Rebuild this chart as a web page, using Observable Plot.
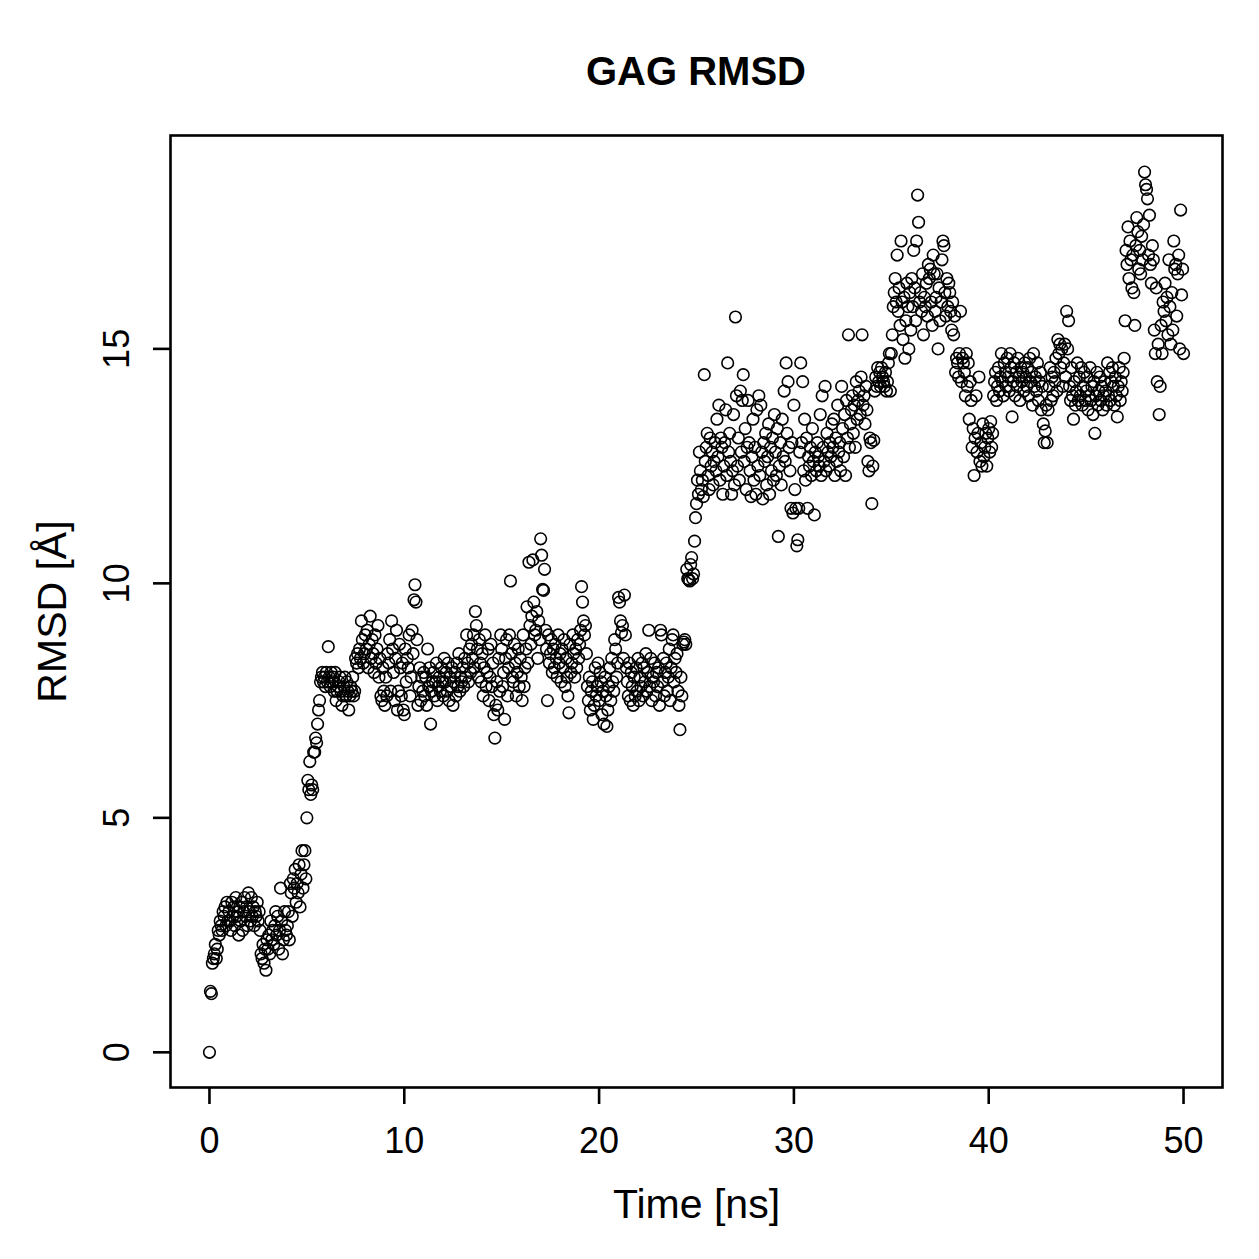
<!DOCTYPE html>
<html>
<head>
<meta charset="utf-8">
<script src="https://cdn.jsdelivr.net/npm/d3@7"></script>
<script src="https://cdn.jsdelivr.net/npm/@observablehq/plot@0.6"></script>
<style>
  html, body { margin: 0; padding: 0; background: #fff; }
  #wrap { position: relative; width: 1259px; height: 1259px; font-family: "Liberation Sans", Arial, Helvetica, sans-serif; }
  #title { position: absolute; left: 170px; width: 1052px; top: 51px; text-align: center; font-weight: bold; font-size: 40px; line-height: 41px; color: #000; }
  #chart { position: absolute; left: 0; top: 100px; }
</style>
</head>
<body>
<div id="wrap">
  <div id="title">GAG RMSD</div>
  <div id="chart"></div>
</div>
<script>
const titleText = "GAG RMSD";
const xLabel = "Time [ns]";
const yLabel = "RMSD [Å]";
const xTicks = [0, 10, 20, 30, 40, 50];
const yTicks = [0, 5, 10, 15];
const timeStart = 0;
const timeStep = 0.05; // ns between frames
// RMSD values (Å), one per frame, 20 frames per ns
const rmsd = [
  // 0 ns
  0.0, 1.3, 1.25, 1.9, 2.0, 2.1, 2.3, 2.0, 2.2, 2.6, 2.5, 2.8, 2.7, 2.6, 3.0, 2.9, 3.1, 2.7, 3.2, 2.8,
  // 1
  3.0, 2.8, 2.6, 3.2, 2.9, 3.1, 2.7, 3.3, 2.9, 3.0, 2.5, 3.1, 2.8, 3.2, 2.6, 3.0, 3.3, 2.9, 3.1, 2.7,
  // 2
  3.4, 3.0, 2.8, 3.3, 2.9, 3.1, 2.7, 3.0, 2.9, 3.2, 2.8, 3.0, 2.6, 2.1, 2.0, 2.3, 1.9, 2.2, 1.75, 2.4,
  // 3
  2.2, 2.5, 2.1, 2.8, 2.4, 2.6, 2.3, 2.7, 3.0, 2.5, 2.9, 2.2, 2.6, 3.5, 2.8, 2.1, 2.4, 3.0, 2.6, 2.5,
  // 4
  2.7, 3.0, 2.4, 3.6, 3.4, 2.9, 3.7, 3.5, 3.9, 3.2, 3.6, 3.4, 4.0, 3.1, 3.8, 4.3, 3.5, 4.0, 4.3, 3.7,
  // 5
  5.0, 5.8, 5.6, 6.2, 5.5, 5.7, 5.6, 6.4, 6.4, 6.7, 6.6, 7.0, 7.3, 7.5, 7.9, 8.0, 8.1, 7.9, 8.0, 7.8,
  // 6
  8.1, 7.9, 8.65, 8.0, 7.8, 8.1, 7.9, 8.0, 7.7, 8.1, 7.5, 7.7, 7.8, 7.9, 8.0, 7.7, 7.4, 7.6, 7.8, 8.0,
  // 7
  7.6, 7.9, 7.7, 7.3, 7.6, 7.8, 7.7, 8.0, 7.6, 7.7, 8.4, 8.3, 8.5, 8.2, 8.6, 8.4, 9.2, 8.8, 8.3, 8.5,
  // 8
  8.9, 8.6, 9.0, 8.2, 8.7, 9.3, 8.4, 8.8, 8.5, 8.1, 8.9, 8.3, 8.6, 9.1, 8.0, 8.4, 7.6, 7.5, 8.2, 7.7,
  // 9
  7.4, 8.0, 7.6, 8.5, 8.3, 8.8, 7.7, 9.2, 8.6, 8.1, 7.5, 8.4, 9.0, 7.3, 7.7, 8.7, 8.2, 7.6, 8.3, 7.3,
  // 10
  7.2, 8.6, 7.9, 8.4, 8.2, 8.9, 7.6, 8.0, 9.0, 8.5, 9.65, 9.97, 9.6, 8.8, 7.4, 7.8, 8.2, 7.5, 8.0, 7.7,
  // 11
  8.1, 7.6, 8.0, 7.4, 8.6, 7.8, 8.2, 7.0, 7.7, 7.9, 8.1, 7.6, 7.9, 8.3, 7.5, 7.8, 8.0, 7.7, 8.2, 7.9,
  // 12
  7.6, 8.4, 7.9, 8.1, 7.7, 8.3, 7.5, 8.0, 7.8, 8.2, 7.4, 7.9, 8.1, 7.6, 8.3, 7.8, 8.5, 7.7, 8.0, 7.9,
  // 13
  8.2, 7.8, 8.4, 8.0, 8.9, 8.3, 7.9, 8.6, 8.1, 8.7, 8.4, 8.9, 8.2, 9.4, 9.1, 8.6, 8.0, 8.8, 8.3, 7.9,
  // 14
  8.5, 7.6, 8.2, 8.9, 7.8, 8.1, 8.6, 7.5, 8.0, 8.7, 7.8, 8.3, 7.2, 6.7, 7.4, 7.9, 7.3, 8.4, 7.7, 8.9,
  // 15
  8.6, 7.8, 8.1, 7.1, 8.4, 8.8, 7.6, 8.2, 8.9, 10.05, 8.5, 8.0, 7.9, 8.7, 8.3, 7.6, 8.1, 8.6, 7.8, 8.4,
  // 16
  8.0, 7.5, 8.9, 7.8, 8.2, 8.6, 9.5, 8.3, 10.45, 9.1, 8.7, 9.3, 10.5, 9.6, 8.9, 9.0, 9.4, 8.4, 9.2, 8.8,
  // 17
  10.95, 10.6, 9.87, 9.85, 10.3, 9.0, 8.6, 7.5, 8.9, 8.3, 8.5, 8.8, 8.1, 8.6, 8.2, 8.7, 8.4, 8.0, 8.9, 8.3,
  // 18
  8.5, 7.9, 8.6, 8.2, 8.8, 7.8, 8.4, 8.0, 7.6, 7.24, 8.7, 8.1, 8.3, 8.9, 8.5, 8.0, 8.6, 8.2, 8.8, 8.4,
  // 19
  8.7, 9.0, 9.93, 9.6, 9.2, 8.9, 9.1, 8.5, 7.8, 7.5, 8.0, 7.3, 7.7, 7.9, 7.1, 7.4, 8.2, 7.6, 7.8, 8.3,
  // 20
  7.5, 8.1, 7.9, 7.2, 7.7, 7.0, 8.0, 7.6, 6.95, 7.3, 7.8, 8.2, 7.5, 8.4, 7.9, 7.7, 8.8, 8.6, 8.0, 8.3,
  // 21
  9.7, 9.6, 9.2, 8.95, 9.1, 8.4, 9.75, 8.9, 8.2, 7.9, 7.6, 8.3, 7.5, 8.1, 7.8, 7.4, 8.0, 7.6, 8.2, 7.7,
  // 22
  8.4, 7.5, 8.0, 7.8, 8.3, 7.6, 8.2, 7.9, 8.5, 7.7, 8.1, 9.0, 7.8, 8.4, 7.5, 8.0, 7.9, 8.3, 7.6, 8.1,
  // 23
  7.8, 8.2, 7.4, 9.0, 8.9, 7.9, 8.4, 7.6, 8.1, 8.3, 7.7, 8.0, 8.6, 7.5, 8.2, 8.8, 8.9, 7.9, 8.4, 8.1,
  // 24
  8.5, 7.7, 7.4, 6.88, 8.0, 7.6, 8.7, 8.75, 8.8, 8.7, 10.3, 10.1, 10.08, 10.05, 10.4, 10.55, 10.1, 10.2, 10.9, 11.4,
  // 25
  11.7, 12.2, 11.9, 12.8, 12.4, 12.0, 12.2, 11.85, 14.45, 12.6, 12.9, 13.2, 12.3, 12.0, 13.1, 12.5, 12.8, 12.1, 12.6, 13.0,
  // 26
  12.4, 13.5, 12.7, 13.8, 12.2, 13.1, 12.9, 11.9, 12.5, 13.0, 13.7, 12.3, 14.7, 12.8, 13.2, 12.6, 11.9, 12.4, 13.6, 12.1,
  // 27
  15.68, 14.0, 12.5, 13.1, 12.2, 14.1, 12.8, 13.9, 14.45, 12.6, 13.3, 12.0, 12.9, 13.9, 13.0, 12.4, 11.85, 12.7, 13.5, 12.2,
  // 28
  12.9, 11.9, 13.7, 12.5, 14.0, 12.3, 13.8, 12.8, 11.8, 13.0, 12.6, 13.2, 12.1, 12.7, 13.4, 11.9, 12.9, 12.4, 13.1, 12.2,
  // 29
  13.6, 12.8, 12.3, 13.3, 11.0, 12.5, 13.0, 12.1, 13.5, 12.7, 14.1, 12.6, 14.7, 13.2, 14.3, 12.9, 12.4, 11.6, 13.0, 11.5,
  // 30
  13.8, 12.0, 11.6, 10.8, 10.93, 11.6, 12.8, 14.7, 13.0, 14.3, 12.4, 13.5, 12.2, 13.1, 11.6, 12.7, 12.5, 12.9, 12.3, 13.3,
  // 31
  12.6, 11.46, 12.8, 12.4, 13.0, 12.7, 12.5, 13.6, 12.3, 14.0, 12.9, 12.6, 14.2, 12.4, 13.2, 12.8, 12.5, 13.0, 12.7, 13.4,
  // 32
  12.9, 13.5, 12.3, 13.1, 12.6, 13.8, 12.8, 13.0, 12.4, 14.2, 13.3, 12.7, 13.6, 12.3, 13.9, 13.1, 15.3, 12.9, 13.4, 13.7,
  // 33
  14.0, 13.2, 13.8, 12.9, 14.3, 13.5, 13.9, 14.1, 13.6, 14.4, 15.3, 13.8, 14.0, 13.4, 14.2, 13.7, 12.6, 12.4, 13.1, 13.0,
  // 34
  11.7, 12.5, 13.05, 14.1, 14.4, 14.2, 14.6, 14.3, 14.5, 14.2, 14.6, 14.4, 14.3, 14.2, 14.5, 14.1, 14.3, 14.7, 14.9, 14.1,
  // 35
  14.9, 15.3, 15.9, 16.2, 16.5, 16.0, 17.0, 15.8, 16.3, 15.5, 17.3, 16.0, 15.2, 16.1, 14.8, 15.6, 16.4, 15.9, 15.0, 16.2,
  // 36
  15.4, 16.5, 15.9, 17.1, 16.3, 15.6, 17.3, 18.28, 17.7, 16.0, 16.2, 15.8, 16.6, 15.3, 16.1, 15.9, 16.4, 15.7, 16.8, 16.5,
  // 37
  16.7, 16.0, 15.5, 17.0, 16.6, 15.8, 16.1, 16.6, 15.0, 16.3, 15.6, 16.0, 16.9, 17.3, 17.2, 16.2, 15.7, 16.5, 15.9, 16.4,
  // 38
  16.2, 15.8, 15.4, 16.0, 15.3, 15.7, 14.5, 14.8, 14.7, 14.4, 14.9, 15.8, 14.3, 14.8, 14.7, 14.5, 14.0, 14.9, 14.2, 14.7,
  // 39
  13.5, 14.3, 13.9, 12.9, 13.3, 12.3, 13.1, 14.0, 12.8, 13.2, 14.4, 12.6, 13.0, 12.5, 13.4, 12.7, 12.9, 13.2, 12.5, 13.1,
  // 40
  13.3, 12.8, 13.45, 12.9, 13.2, 14.0, 14.3, 14.5, 13.9, 14.2, 14.6, 14.1, 14.4, 14.9, 14.3, 14.0, 14.7, 14.5, 14.2, 14.8,
  // 41
  14.4, 14.1, 14.9, 14.6, 13.55, 14.3, 14.7, 14.0, 14.5, 14.2, 14.8, 14.4, 13.9, 14.6, 14.3, 14.5, 14.1, 14.7, 14.4, 14.2,
  // 42
  14.6, 14.0, 14.8, 14.3, 14.5, 13.8, 14.9, 14.2, 14.4, 14.1, 14.7, 13.9, 14.3, 14.5, 13.7, 14.2, 13.4, 13.0, 13.25, 13.8,
  // 43
  13.0, 13.7, 14.2, 14.6, 13.9, 14.4, 14.0, 14.5, 14.3, 14.8, 14.1, 15.2, 14.9, 15.1, 14.6, 15.0, 14.2, 14.7, 15.1, 14.4,
  // 44
  15.8, 15.0, 15.6, 14.2, 13.9, 14.6, 14.0, 13.5, 14.3, 13.8, 14.1, 14.7, 13.9, 14.4, 14.0, 14.6, 13.8, 14.2, 14.5, 13.9,
  // 45
  14.1, 14.4, 13.7, 14.0, 14.6, 13.9, 14.2, 13.6, 14.3, 13.2, 14.0, 14.5, 13.8, 14.1, 14.4, 13.9, 14.2, 13.7, 14.0, 14.3,
  // 46
  14.1, 13.8, 14.7, 14.0, 14.5, 13.9, 14.3, 14.6, 14.2, 13.8, 14.4, 14.0, 13.55, 14.2, 14.6, 13.9, 14.3, 14.1, 14.5, 14.8,
  // 47
  15.6, 17.1, 16.8, 17.6, 16.5, 17.3, 16.9, 16.3, 17.0, 16.2, 15.5, 17.2, 17.8, 17.5, 16.7, 17.1, 16.6, 17.4, 16.9, 17.65,
  // 48
  18.77, 18.5, 18.4, 18.2, 17.0, 17.85, 16.8, 16.4, 17.2, 16.9, 15.4, 14.9, 16.3, 14.3, 15.1, 13.6, 14.2, 15.5, 14.9, 16.0,
  // 49
  15.8, 16.4, 15.6, 16.1, 15.3, 16.9, 15.9, 15.1, 16.2, 15.4, 17.3, 16.7, 16.8, 15.7, 16.6, 17.0, 15.0, 17.96, 16.15, 16.7,
  // 50
  14.9
];

const data = rmsd.map((v, i) => ({time: timeStart + i * timeStep, rmsd: v}));

const fontFamily = '"Liberation Sans", Arial, Helvetica, sans-serif';

const chart = Plot.plot({
  width: 1259,
  height: 1159,
  marginLeft: 170,
  marginRight: 37,
  marginTop: 35,
  marginBottom: 172,
  style: {fontFamily, fontSize: "36px", background: "white", color: "black"},
  x: {domain: [-2, 52]},
  y: {domain: [-0.75, 19.55]},
  marks: [
    Plot.frame({stroke: "black", strokeWidth: 2.6}),
    // tick marks and tick labels
    Plot.axisX({
      ticks: xTicks, tickSize: 17, tickPadding: 23, fontSize: 36, strokeWidth: 2.6,
      tickFormat: d => String(d), label: null
    }),
    Plot.axisY({
      ticks: yTicks, tickSize: 17, tickPadding: 25, tickRotate: -90, fontSize: 36, strokeWidth: 2.6,
      tickFormat: d => String(d), label: null
    }),
    // axis titles (slightly larger text)
    Plot.axisX({
      ticks: [], tickSize: 0, fontSize: 41,
      label: xLabel, labelAnchor: "center", labelOffset: 130, labelArrow: "none"
    }),
    Plot.axisY({
      ticks: [], tickSize: 0, fontSize: 41,
      label: yLabel, labelAnchor: "center", labelOffset: 134, labelArrow: "none"
    }),
    Plot.dot(data, {x: "time", y: "rmsd", r: 5.8, stroke: "black", strokeWidth: 1.6, fill: "none"})
  ]
});
document.getElementById("title").textContent = titleText;
document.getElementById("chart").appendChild(chart);
</script>
</body>
</html>
